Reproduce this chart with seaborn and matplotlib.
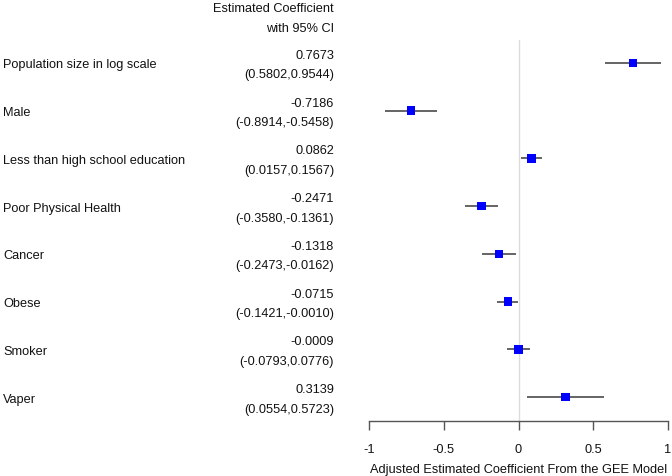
import pandas as pd
import matplotlib.pyplot as plt
import seaborn as sns

# Datos del modelo GEE
variables = ['Population size in log scale', 'Male', 'Less than high school education',
             'Poor Physical Health', 'Cancer', 'Obese', 'Smoker', 'Vaper']
estimate = [0.7673, -0.7186, 0.0862, -0.2471, -0.1318, -0.0715, -0.0009, 0.3139]
lower = [0.5802, -0.8914, 0.0157, -0.3580, -0.2473, -0.1421, -0.0793, 0.0554]
upper = [0.9544, -0.5458, 0.1567, -0.1361, -0.0162, -0.0010, 0.0776, 0.5723]
xticks = [-1, -0.5, 0, 0.5, 1]
xtick_labels = ['-1', '-0.5', '0', '0.5', '1']

df = pd.DataFrame({'variable': variables, 'est': estimate, 'lo': lower, 'hi': upper})
df['pos'] = range(len(df))

sns.set_style("white")
plt.rcParams['font.family'] = ['Liberation Sans', 'DejaVu Sans']
fs = 9.2

fig = plt.figure(figsize=(6.72, 4.77), dpi=100)
ax = fig.add_axes([369 / 672, 1 - 422 / 477, 299 / 672, 381 / 477])

ax.axvline(0, color='#dcdcdc', lw=1, zorder=0)
ax.hlines(df['pos'], df['lo'], df['hi'], color='#3a3a3a', lw=1.1, zorder=1)
sns.scatterplot(data=df, x='est', y='pos', marker='s', color='#0000ff', s=38,
                edgecolor='none', zorder=2, ax=ax)

ax.set_xlim(-1, 1)
ax.set_ylim(len(df) - 0.5, -0.48)
ax.set_xticks(xticks)
ax.set_xticklabels(xtick_labels, fontsize=fs)
ax.set_yticks([])
ax.set_ylabel('')
ax.set_xlabel('Adjusted Estimated Coefficient From the GEE Model', fontsize=fs, labelpad=6,
              color='#111111')
for s in ['top', 'right', 'left']:
    ax.spines[s].set_visible(False)
ax.spines['bottom'].set_color('#555555')
ax.spines['bottom'].set_linewidth(1)
ax.tick_params(axis='x', bottom=True, direction='out', length=6.5, width=1,
               color='#555555', pad=9, labelcolor='#111111')

# Columnas de texto
trans = ax.get_yaxis_transform()
x_lab = (3 - 369) / 299
x_est = (334 - 369) / 299
for _, r in df.iterrows():
    ax.text(x_lab, r['pos'] + 0.03, r['variable'], transform=trans, ha='left', va='center',
            fontsize=fs, color='#111111', clip_on=False)
    ax.text(x_est, r['pos'] - 0.17, f"{r['est']:.4f}", transform=trans, ha='right',
            va='center', fontsize=fs, color='#111111', clip_on=False)
    ax.text(x_est, r['pos'] + 0.24, f"({r['lo']:.4f},{r['hi']:.4f})", transform=trans,
            ha='right', va='center', fontsize=fs, color='#111111', clip_on=False)

fig.text(334 / 672, 1 - 9 / 477, 'Estimated Coefficient', ha='right', va='center',
         fontsize=fs, color='#111111')
fig.text(334 / 672, 1 - 29 / 477, 'with 95% CI', ha='right', va='center',
         fontsize=fs, color='#111111')

plt.savefig('out.png', dpi=100)
